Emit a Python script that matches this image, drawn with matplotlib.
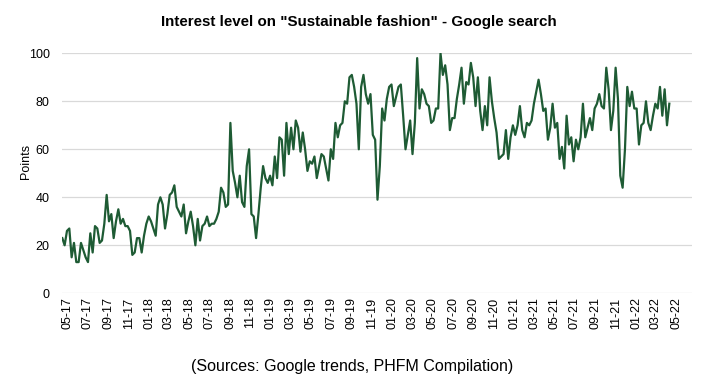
import matplotlib
matplotlib.use("Agg")
import matplotlib.pyplot as plt
import matplotlib.dates as mdates
import pandas as pd

plt.rcParams['font.family'] = ['Liberation Sans', 'DejaVu Sans']

title = 'Interest level on "Sustainable fashion" - Google search'
source = "(Sources: Google trends, PHFM Compilation)"
y_label = "Points"
start_date = "2017-04-16"

# weekly Google Trends interest (0-100)
interest_2017_18 = [23, 20, 26, 27, 15, 21, 13, 13, 21, 18, 15, 13, 25, 17, 28, 27, 21, 22, 29, 41,
                    30, 33, 23, 30, 35, 29, 31, 28, 28, 26, 16, 17, 23, 23, 17, 24, 29, 32, 30, 27,
                    24, 37, 40, 37, 27, 33, 41, 42, 45, 36, 34, 32, 37]
interest_2018_19 = [25, 30, 34, 28, 20, 31, 22, 28, 29, 32, 28, 29, 29, 31, 34, 44, 42, 36, 37, 71,
                    51, 46, 40, 49, 38, 36, 53, 60, 33, 32, 23, 33, 44, 53, 48, 46, 49, 45, 57, 48,
                    65, 64, 49, 71, 58, 69, 60, 72, 69, 59, 67, 60]
interest_2019_20 = [51, 55, 54, 57, 48, 53, 58, 57, 52, 47, 60, 56, 71, 65, 70, 71, 80, 79, 90, 91,
                    86, 79, 60, 86, 91, 83, 79, 83, 66, 64, 39, 53, 77, 72, 81, 86, 87, 78, 82, 86,
                    87, 74, 60, 66, 72, 58, 71, 98, 77, 85, 83, 79, 78]
interest_2020_21 = [71, 72, 77, 77, 100, 91, 95, 87, 68, 73, 73, 81, 87, 94, 79, 88, 87, 96, 90, 78,
                    90, 76, 68, 78, 70, 90, 80, 73, 67, 56, 57, 58, 68, 56, 65, 70, 66, 70, 78, 68,
                    65, 71, 70, 72, 79, 84, 89, 83, 76, 77, 64, 69]
interest_2021_22 = [79, 69, 71, 56, 61, 52, 74, 62, 65, 55, 64, 60, 65, 79, 65, 69, 73, 68, 77, 79,
                    83, 78, 77, 94, 85, 68, 76, 94, 81, 49, 44, 60, 86, 78, 84, 77, 77, 62, 70, 71,
                    80, 71, 68, 74, 79, 77, 86, 74, 85, 70, 79]

values = interest_2017_18 + interest_2018_19 + interest_2019_20 + interest_2020_21 + interest_2021_22
dates = pd.date_range(start_date, periods=len(values), freq="7D")

W, H = 703, 383
fig = plt.figure(figsize=(W / 100, H / 100), dpi=100)
left, right, top, bottom = 62.3, 692.0, 53.3, 293.3
ax = fig.add_axes([left / W, 1 - bottom / H, (right - left) / W, (bottom - top) / H])

ax.plot(dates, values, color="#1e5b34", lw=1.6, solid_joinstyle="round", zorder=3)

ax.set_ylim(0, 100)
ax.set_yticks(range(0, 101, 20))
d0 = pd.Timestamp(start_date)
ax.set_xlim(d0, d0 + pd.Timedelta(days=1888))
ax.xaxis.set_major_locator(mdates.MonthLocator(bymonth=[1, 3, 5, 7, 9, 11]))
ax.xaxis.set_major_formatter(mdates.DateFormatter("%m-%y"))

for s in ax.spines.values():
    s.set_visible(False)
ax.grid(axis="y", color="#d9d9d9", lw=0.9, zorder=0)
ax.tick_params(axis="both", length=0, labelsize=9, colors="black")
ax.tick_params(axis="y", pad=9)
ax.tick_params(axis="x", pad=3)
for lab in ax.get_xticklabels():
    lab.set_rotation(90)

ax.set_ylabel(y_label, fontsize=9)
ax.yaxis.set_label_coords(-0.048, 0.55)

fig.text(359 / W, 1 - 22 / H, title, ha="center", va="center", fontsize=10.9, fontweight="bold")
fig.text(352 / W, 1 - 366 / H, source, ha="center", va="center", fontsize=11.5)

fig.savefig("out.png", dpi=100)
